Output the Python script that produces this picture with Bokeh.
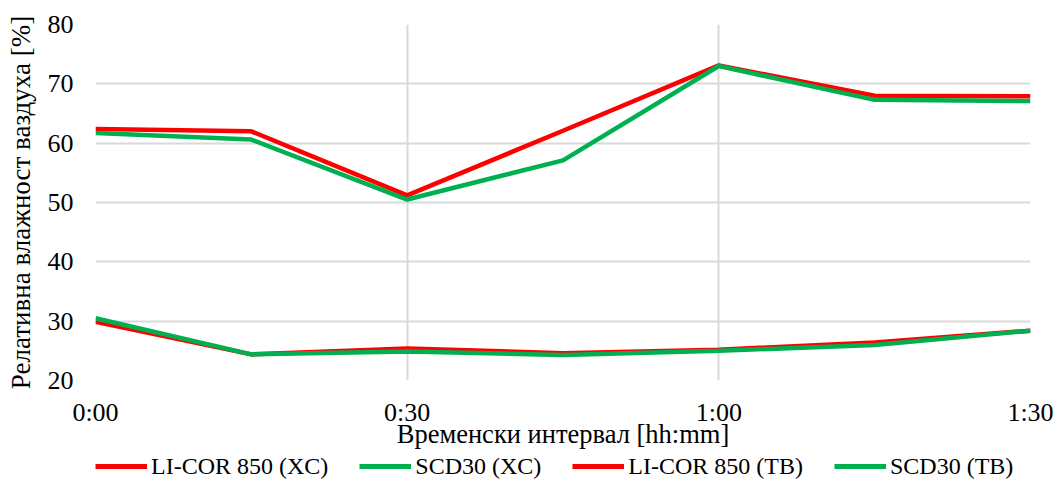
from bokeh.plotting import figure
from bokeh.layouts import column, row
from bokeh.models import Range1d, FixedTicker, Legend, LegendItem
from bokeh.embed import file_html
from bokeh.resources import INLINE

# time in minutes from start
minutes = [0, 15, 30, 45, 60, 75, 90]
tick_minutes = [0, 30, 60, 90]
tick_labels = ["0:00", "0:30", "1:00", "1:30"]

licor_xc = [62.4, 62.0, 51.2, 62.1, 73.1, 68.0, 67.9]
scd30_xc = [61.7, 60.6, 50.5, 57.1, 73.0, 67.3, 67.1]
licor_tb = [29.9, 24.4, 25.4, 24.6, 25.2, 26.4, 28.4]
scd30_tb = [30.5, 24.4, 24.9, 24.3, 25.0, 26.0, 28.4]

series_names = ["LI-COR 850 (XC)", "SCD30 (XC)", "LI-COR 850 (TB)", "SCD30 (TB)"]
series_values = [licor_xc, scd30_xc, licor_tb, scd30_tb]
series_colors = ["#FF0000", "#00B050", "#FF0000", "#00B050"]

FONT = "Liberation Serif"

p = figure(width=1056, height=451, output_backend="svg", toolbar_location=None,
           x_range=Range1d(0, 90), y_range=Range1d(20, 80),
           min_border_left=95, min_border_right=26, min_border_top=24,
           min_border_bottom=66)
p.outline_line_color = None
p.background_fill_color = "white"
p.border_fill_color = "white"

# grid
p.xgrid.ticker = FixedTicker(ticks=tick_minutes)
p.ygrid.ticker = FixedTicker(ticks=[20, 30, 40, 50, 60, 70, 80])
for g in (p.xgrid, p.ygrid):
    g.grid_line_color = "#D9D9D9"
    g.grid_line_width = 2

# axes
p.xaxis.ticker = FixedTicker(ticks=tick_minutes)
p.xaxis.major_label_overrides = {t: l for t, l in zip(tick_minutes, tick_labels)}
p.yaxis.ticker = FixedTicker(ticks=[20, 30, 40, 50, 60, 70, 80])
for ax in (p.xaxis, p.yaxis):
    ax.axis_line_color = None
    ax.major_tick_line_color = None
    ax.minor_tick_line_color = None
    ax.major_tick_in = 0
    ax.major_tick_out = 0
    ax.minor_tick_in = 0
    ax.minor_tick_out = 0
    ax.major_label_text_font = FONT
    ax.major_label_text_font_size = "26px"
    ax.major_label_text_color = "#000000"
    ax.axis_label_text_font = FONT
    ax.axis_label_text_font_style = "normal"
    ax.axis_label_text_color = "#000000"
p.xaxis.axis_label_text_font_size = "26.5px"
p.yaxis.axis_label_text_font_size = "27px"
p.xaxis.major_label_standoff = 17
p.yaxis.major_label_standoff = 22
p.xaxis.axis_label = "Временски интервал [hh:mm]"
p.yaxis.axis_label = "Релативна влажност ваздуха [%]"
p.xaxis.axis_label_standoff = -11
p.yaxis.axis_label_standoff = 9

for vals, col in zip(series_values, series_colors):
    p.line(minutes, vals, line_color=col, line_width=4.5)

# legend strip underneath the chart; its swatch lines sit outside the visible range
lg = figure(width=1056, height=30, output_backend="svg", toolbar_location=None,
            x_range=Range1d(0, 1), y_range=Range1d(0, 1),
            x_axis_type=None, y_axis_type=None,
            min_border_left=0, min_border_right=0, min_border_top=0,
            min_border_bottom=0)
lg.outline_line_color = None
lg.xgrid.visible = False
lg.ygrid.visible = False
items = []
for name, col in zip(series_names, series_colors):
    r = lg.line([5, 6], [5, 6], line_color=col, line_width=5)
    items.append(LegendItem(label=name, renderers=[r]))

legend = Legend(items=items, orientation="horizontal", location=(95, 0),
                label_text_font=FONT, label_text_font_size="24px",
                label_text_color="#000000", glyph_width=52, glyph_height=30,
                label_standoff=4, spacing=31, padding=0, margin=0,
                border_line_color=None, background_fill_alpha=0)
lg.add_layout(legend, "center")

layout = column(p, row(lg), spacing=0)
open("out.html", "w").write(file_html(layout, INLINE))
